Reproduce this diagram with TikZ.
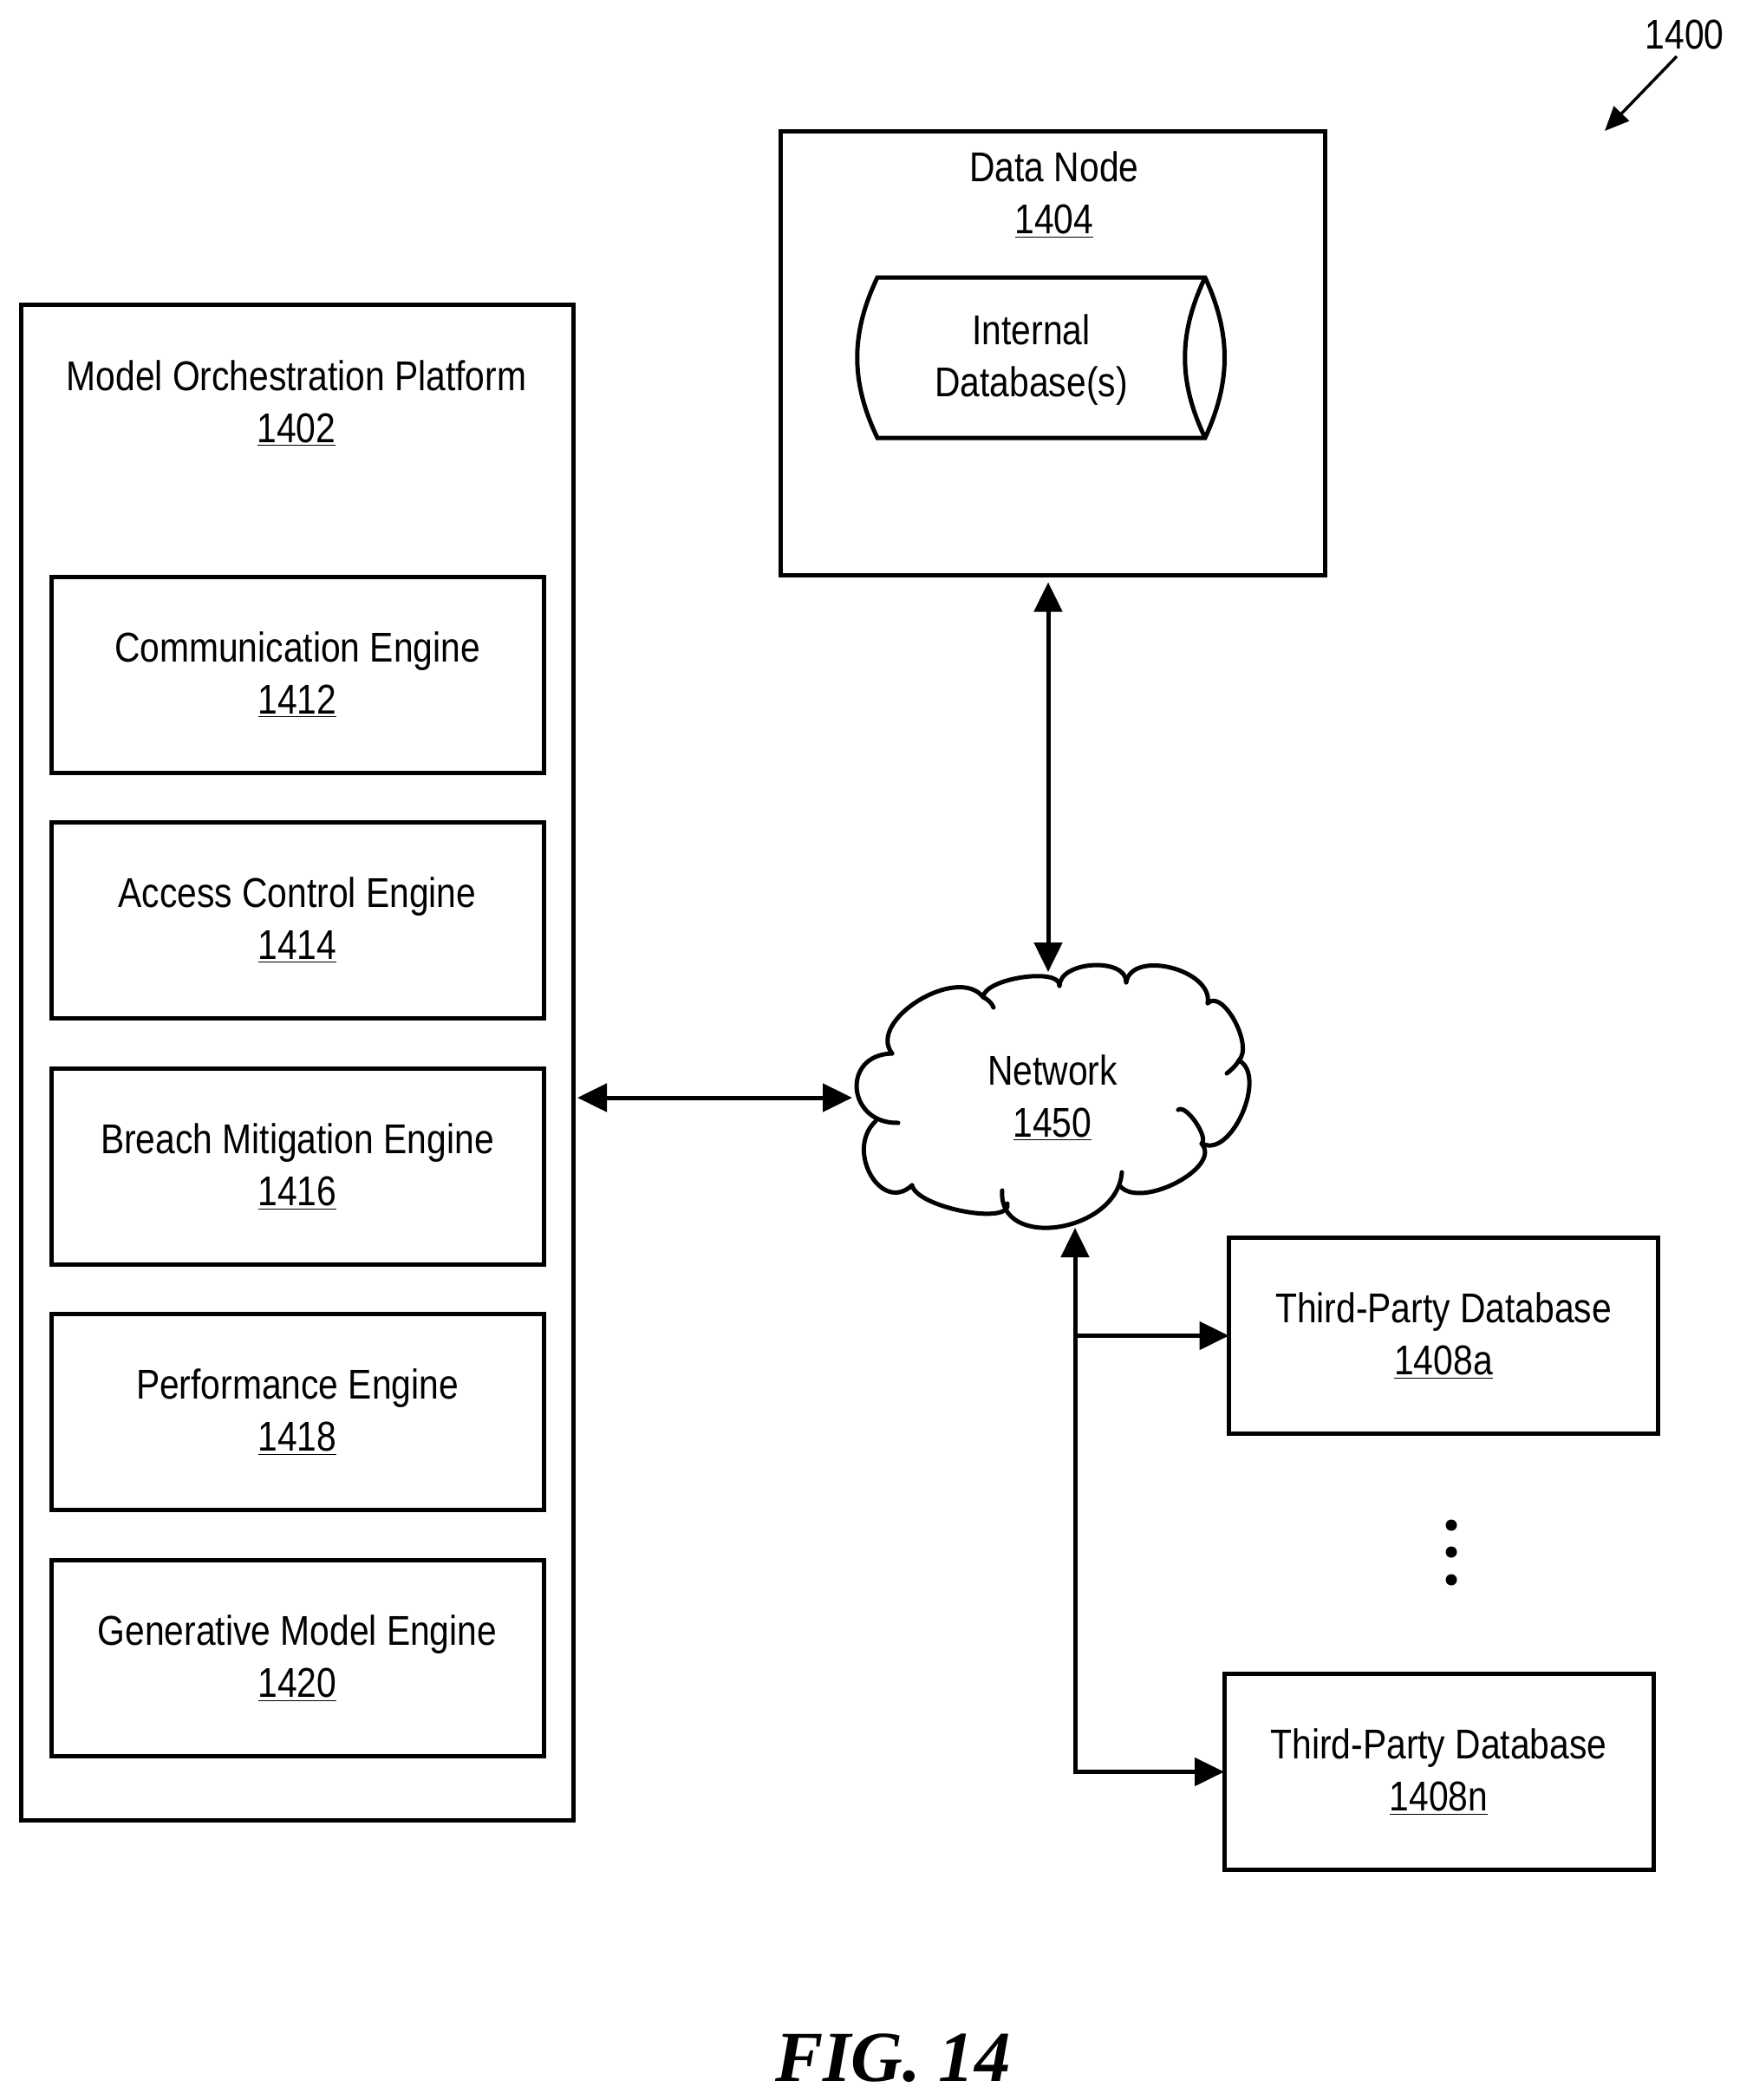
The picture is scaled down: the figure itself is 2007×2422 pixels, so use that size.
\documentclass[tikz,border=0pt]{standalone}
\usepackage{fontspec}
\setmainfont[FakeStretch=0.85]{Liberation Sans}
\newfontfamily\figfont{Liberation Serif}
\usetikzlibrary{arrows.meta,calc}
\tikzset{>={Triangle[length=17pt,width=16pt]}}
\tikzset{
  block/.style={draw,line width=2.5pt,outer sep=0,minimum width=#1,align=center,inner sep=0},
  engine/.style={block=284pt,minimum height=113pt},
  thirdparty/.style={block=247.5pt,minimum height=113pt},
  label/.style={align=center,inner sep=0,outer sep=0},
  link/.style={line width=2.5pt},
  puff/.style={line width=2.5pt,line cap=round,line join=round},
}
\newcommand{\num}[1]{\underline{#1}}
% one lobe of the cloud: start, top of the lobe, end
\newcommand{\lobe}[3]{\draw[puff] (#1) .. controls ($(#1)+1.333*(#2)-0.667*(#1)-0.667*(#3)$)
  and ($(#3)+1.333*(#2)-0.667*(#1)-0.667*(#3)$) .. (#3);}

\begin{document}
\begin{tikzpicture}[x=0.5pt,y=-0.5pt,font=\fontsize{24}{30}\selectfont]
  \useasboundingbox (0,0) rectangle (2007,2422);

  % PLATFORM
  \node[block=318.5pt,minimum height=874pt] (platform) at (342.5,1225) {};
  \node[label] (platformtitle) at (342,465) {Model Orchestration Platform\\\num{1402}};
  \foreach \name/\txt/\n/\y in {comm/Communication Engine/1412/778.5,
    access/Access Control Engine/1414/1061.5,
    breach/Breach Mitigation Engine/1416/1345.5,
    perf/Performance Engine/1418/1628.5,
    gen/Generative Model Engine/1420/1912.5}{
    \node[engine] (\name) at (343,\y) {\txt\\\num{\n}};
  }

  % DATA NODE
  \node[block=314pt,minimum height=256pt] (data) at (1214,407.5) {};
  \node[label] (datatitle) at (1216,224.5) {Data Node\\\num{1404}};
  \draw[link,line join=miter]
    (1012,320) -- (1390,320) .. controls (1420,385) and (1420,440) .. (1390,505)
    -- (1012,505) .. controls (981,440) and (981,385) .. (1012,320) -- cycle;
  \draw[link] (1390,320) .. controls (1359,385) and (1359,440) .. (1390,505);
  \node[label] (internal) at (1189.5,415) {Internal\\Database(s)};

  % CLOUD
  \node[label,minimum width=226pt,minimum height=151pt] (network) at (1214,1266) {Network\\\num{1450}};
  \lobe{1029,1215}{1060,1155}{1134,1150}
  \draw[puff] (1134,1150) .. controls (1140,1153) and (1144,1157) .. (1146,1162);
  \lobe{1134,1150}{1180,1128}{1222,1137}
  \lobe{1222,1137}{1262,1114}{1299,1133}
  \lobe{1299,1133}{1352,1117}{1393,1157}
  \lobe{1393,1157}{1425,1178}{1429,1223}
  \draw[puff] (1429,1223) .. controls (1425,1230) and (1420,1234) .. (1415,1238);
  \lobe{1429,1223}{1434,1285}{1387,1319}
  \lobe{1359,1280}{1380,1295}{1386,1319}
  \lobe{1386,1319}{1358,1365}{1292,1368}
  \lobe{1294,1352}{1222,1416}{1156,1373}
  \lobe{1162,1388}{1112,1398}{1052,1367}
  \lobe{1052,1367}{1005,1356}{1010,1293}
  \lobe{1036,1295}{989,1257}{1029,1215}

  % THIRD PARTY
  \node[thirdparty] (thirda) at (1665,1540.5) {Third-Party Database\\\num{1408a}};
  \node[thirdparty] (thirdn) at (1659.5,2043.5) {Third-Party Database\\\num{1408n}};
  \foreach \y in {1759,1790,1822}{
    \fill (1674,\y) circle (6.5);
  }

  % CONNECTORS
  \coordinate (nettop) at (1209,1121);
  \coordinate (netbot) at (1240,1416);
  \coordinate (bus) at (1240,1540.5);
  \draw[link,<->,shorten <=4pt] (data.south -| nettop) -- (nettop);
  \draw[link,<->,shorten <=2.5pt,shorten >=2.5pt] (platform.east |- network) -- (network.west);
  \draw[link,<->] (thirdn.west) -| (netbot);
  \draw[link,->] (bus) -- (thirda.west);

  % REFERENCE
  \node[label] (figref) at (1943,40) {1400};
  \coordinate (figtip) at (1851,151);
  \draw[line width=1.7pt,->,>={Triangle[length=14pt,width=12pt]}] (1934,65) -- (figtip);

  \node[label,font=\figfont\bfseries\itshape\fontsize{41.4}{41.4}\selectfont] (figlabel) at (1030,2374) {FIG. 14};
\end{tikzpicture}
\end{document}
